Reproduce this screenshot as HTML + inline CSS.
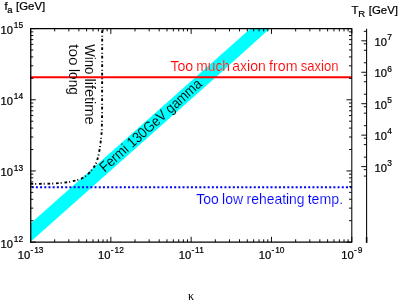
<!DOCTYPE html>
<html><head><meta charset="utf-8"><title>plot</title>
<style>html,body{margin:0;padding:0;background:#fff;width:398px;height:303px;overflow:hidden}</style></head>
<body>
<svg width="398" height="303" viewBox="0 0 398 303" style="display:block;position:absolute;left:0;top:0;will-change:transform" font-family="'Liberation Sans', sans-serif">
<rect width="398" height="303" fill="#fff"/>
<polygon points="30.5,223.40 195.8,77 250.6,28.6 269.9,28.6 216.0,77 30.5,241.80" fill="#00ffff"/>
<line x1="30.5" y1="77.2" x2="351.8" y2="77.2" stroke="#ff0000" stroke-width="2.0"/>
<line x1="30.5" y1="187.3" x2="351.8" y2="187.3" stroke="#0000ff" stroke-width="2.05" stroke-dasharray="2.0 2.19" stroke-dashoffset="-1.2"/>
<path d="M30.5,183.9 L45.0,183.8 L55.0,183.4 L63.0,182.8 L70.0,181.8 L76.0,180.5 L81.0,178.8 L85.0,176.6 L88.1,174.1 L90.6,171.4 L92.7,168.8 L94.4,166.4 L95.7,164.2 L97.0,160.8 L98.0,157.4 L99.0,153.0 L99.8,148.2 L100.5,143.5 L101.0,139.1 L101.5,134.0 L101.8,130.0 L102.1,115.0 L102.2,28.6" fill="none" stroke="#000" stroke-width="1.9" stroke-dasharray="2.7 2.0 1.0 2.8" stroke-linejoin="round"/>
<path d="M30.1,28.6H352.3M30.1,242.1H352.3M351.8,28.6V242.1" fill="none" stroke="#000" stroke-width="1.05"/>
<path d="M30.75,28.1V242.6" fill="none" stroke="#000" stroke-width="1.3"/>
<path d="M30.50,242.1v-5.3M30.50,28.6v5.3M54.68,242.1v-2.8M54.68,28.6v2.8M68.82,242.1v-2.8M68.82,28.6v2.8M78.86,242.1v-2.8M78.86,28.6v2.8M86.64,242.1v-2.8M86.64,28.6v2.8M93.00,242.1v-2.8M93.00,28.6v2.8M98.38,242.1v-2.8M98.38,28.6v2.8M103.04,242.1v-2.8M103.04,28.6v2.8M107.15,242.1v-2.8M107.15,28.6v2.8M110.83,242.1v-5.3M110.83,28.6v5.3M135.01,242.1v-2.8M135.01,28.6v2.8M149.15,242.1v-2.8M149.15,28.6v2.8M159.19,242.1v-2.8M159.19,28.6v2.8M166.97,242.1v-2.8M166.97,28.6v2.8M173.33,242.1v-2.8M173.33,28.6v2.8M178.71,242.1v-2.8M178.71,28.6v2.8M183.37,242.1v-2.8M183.37,28.6v2.8M187.47,242.1v-2.8M187.47,28.6v2.8M191.15,242.1v-5.3M191.15,28.6v5.3M215.33,242.1v-2.8M215.33,28.6v2.8M229.47,242.1v-2.8M229.47,28.6v2.8M239.51,242.1v-2.8M239.51,28.6v2.8M247.29,242.1v-2.8M247.29,28.6v2.8M253.65,242.1v-2.8M253.65,28.6v2.8M259.03,242.1v-2.8M259.03,28.6v2.8M263.69,242.1v-2.8M263.69,28.6v2.8M267.80,242.1v-2.8M267.80,28.6v2.8M271.48,242.1v-5.3M271.48,28.6v5.3M295.66,242.1v-2.8M295.66,28.6v2.8M309.80,242.1v-2.8M309.80,28.6v2.8M319.84,242.1v-2.8M319.84,28.6v2.8M327.62,242.1v-2.8M327.62,28.6v2.8M333.98,242.1v-2.8M333.98,28.6v2.8M339.36,242.1v-2.8M339.36,28.6v2.8M344.02,242.1v-2.8M344.02,28.6v2.8M348.12,242.1v-2.8M348.12,28.6v2.8M351.80,242.1v-5.3M351.80,28.6v5.3M30.5,242.10h5.3M351.8,242.10h-5.3M30.5,220.68h2.8M351.8,220.68h-2.8M30.5,208.14h2.8M351.8,208.14h-2.8M30.5,199.25h2.8M351.8,199.25h-2.8M30.5,192.36h2.8M351.8,192.36h-2.8M30.5,186.72h2.8M351.8,186.72h-2.8M30.5,181.96h2.8M351.8,181.96h-2.8M30.5,177.83h2.8M351.8,177.83h-2.8M30.5,174.19h2.8M351.8,174.19h-2.8M30.5,170.93h5.3M351.8,170.93h-5.3M30.5,149.51h2.8M351.8,149.51h-2.8M30.5,136.98h2.8M351.8,136.98h-2.8M30.5,128.09h2.8M351.8,128.09h-2.8M30.5,121.19h2.8M351.8,121.19h-2.8M30.5,115.55h2.8M351.8,115.55h-2.8M30.5,110.79h2.8M351.8,110.79h-2.8M30.5,106.66h2.8M351.8,106.66h-2.8M30.5,103.02h2.8M351.8,103.02h-2.8M30.5,99.77h5.3M351.8,99.77h-5.3M30.5,78.34h2.8M351.8,78.34h-2.8M30.5,65.81h2.8M351.8,65.81h-2.8M30.5,56.92h2.8M351.8,56.92h-2.8M30.5,50.02h2.8M351.8,50.02h-2.8M30.5,44.39h2.8M351.8,44.39h-2.8M30.5,39.62h2.8M351.8,39.62h-2.8M30.5,35.50h2.8M351.8,35.50h-2.8M30.5,31.86h2.8M351.8,31.86h-2.8M30.5,28.60h5.3M351.8,28.60h-5.3" stroke="#000" stroke-width="0.95" fill="none"/>
<line x1="366.6" y1="28.700000000000003" x2="366.6" y2="242.79999999999998" stroke="#000" stroke-width="1.05"/>
<line x1="366.6" y1="237.1" x2="366.6" y2="242.79999999999998" stroke="#000" stroke-width="1.5"/>
<path d="M366.6,166.60h-5.3M366.6,135.15h-5.3M366.6,103.70h-5.3M366.6,72.25h-5.3M366.6,40.80h-5.3M366.6,31.33h-2.8M366.6,43.85h-2.8M366.6,50.27h-2.8M366.6,62.78h-2.8M366.6,75.30h-2.8M366.6,81.72h-2.8M366.6,94.23h-2.8M366.6,106.75h-2.8M366.6,113.17h-2.8M366.6,125.68h-2.8M366.6,138.20h-2.8M366.6,144.62h-2.8M366.6,157.13h-2.8M366.6,169.65h-2.8M366.6,176.07h-2.8" stroke="#000" stroke-width="0.95" fill="none"/>
<g>
<text stroke="#000" stroke-width="0.22" x="23.1" y="247.60" font-size="11.2" text-anchor="end">10<tspan font-size="8.4" dy="-5.8" dx="0.7">12</tspan></text>
<text stroke="#000" stroke-width="0.22" x="23.1" y="176.43" font-size="11.2" text-anchor="end">10<tspan font-size="8.4" dy="-5.8" dx="0.7">13</tspan></text>
<text stroke="#000" stroke-width="0.22" x="23.1" y="105.27" font-size="11.2" text-anchor="end">10<tspan font-size="8.4" dy="-5.8" dx="0.7">14</tspan></text>
<text stroke="#000" stroke-width="0.22" x="23.1" y="34.00" font-size="11.2" text-anchor="end">10<tspan font-size="8.4" dy="-5.8" dx="0.7">15</tspan></text>
<text stroke="#000" stroke-width="0.22" x="30.60" y="258.8" font-size="11.2" text-anchor="middle">10<tspan font-size="8.4" dy="-5.8" dx="0.3">-</tspan><tspan font-size="8.4" dx="0.9">13</tspan></text>
<text stroke="#000" stroke-width="0.22" x="110.92" y="258.8" font-size="11.2" text-anchor="middle">10<tspan font-size="8.4" dy="-5.8" dx="0.3">-</tspan><tspan font-size="8.4" dx="0.9">12</tspan></text>
<text stroke="#000" stroke-width="0.22" x="191.25" y="258.8" font-size="11.2" text-anchor="middle">10<tspan font-size="8.4" dy="-5.8" dx="0.3">-</tspan><tspan font-size="8.4" dx="0.9">11</tspan></text>
<text stroke="#000" stroke-width="0.22" x="271.58" y="258.8" font-size="11.2" text-anchor="middle">10<tspan font-size="8.4" dy="-5.8" dx="0.3">-</tspan><tspan font-size="8.4" dx="0.9">10</tspan></text>
<text stroke="#000" stroke-width="0.22" x="351.90" y="258.8" font-size="11.2" text-anchor="middle">10<tspan font-size="8.4" dy="-5.8" dx="0.3">-</tspan><tspan font-size="8.4" dx="0.9">9</tspan></text>
<text stroke="#000" stroke-width="0.22" x="374.5" y="46.00" font-size="11.2">10<tspan font-size="8.4" dy="-5.9" dx="0.4">7</tspan></text>
<text stroke="#000" stroke-width="0.22" x="374.5" y="77.45" font-size="11.2">10<tspan font-size="8.4" dy="-5.9" dx="0.4">6</tspan></text>
<text stroke="#000" stroke-width="0.22" x="374.5" y="108.90" font-size="11.2">10<tspan font-size="8.4" dy="-5.9" dx="0.4">5</tspan></text>
<text stroke="#000" stroke-width="0.22" x="374.5" y="140.35" font-size="11.2">10<tspan font-size="8.4" dy="-5.9" dx="0.4">4</tspan></text>
<text stroke="#000" stroke-width="0.22" x="374.5" y="171.80" font-size="11.2">10<tspan font-size="8.4" dy="-5.9" dx="0.4">3</tspan></text>
<text stroke="#000" stroke-width="0.22" x="4.4" y="9.5" font-size="11.4">f<tspan font-size="9.5" dy="3.1" dx="-0.2">a</tspan><tspan dy="-3.1" dx="0.2"> [GeV]</tspan></text>
<text stroke="#000" stroke-width="0.22" x="351.6" y="13.6" font-size="11.4">T<tspan font-size="9.5" dy="3.2" dx="-0.3">R</tspan><tspan dy="-3.2" dx="0.5"> [GeV]</tspan></text>
<text x="191.1" y="299.8" font-size="12" text-anchor="middle" font-family="'Liberation Serif', serif" font-style="normal">&#954;</text>
<text x="170.40" y="70.6" font-size="14.3" fill="#ff0000" stroke="#fff" stroke-width="0.14" textLength="22.85" lengthAdjust="spacingAndGlyphs">Too</text>
<text x="196.28" y="70.6" font-size="14.3" fill="#ff0000" stroke="#fff" stroke-width="0.14" textLength="33.71" lengthAdjust="spacingAndGlyphs">much</text>
<text x="232.30" y="70.6" font-size="14.3" fill="#ff0000" stroke="#fff" stroke-width="0.14" textLength="33.51" lengthAdjust="spacingAndGlyphs">axion</text>
<text x="269.10" y="70.6" font-size="14.3" fill="#ff0000" stroke="#fff" stroke-width="0.14" textLength="28.44" lengthAdjust="spacingAndGlyphs">from</text>
<text x="300.64" y="70.6" font-size="14.3" fill="#ff0000" stroke="#fff" stroke-width="0.14" textLength="37.81" lengthAdjust="spacingAndGlyphs">saxion</text>
<text x="196.31" y="204.1" font-size="14.3" fill="#0000ff" stroke="#fff" stroke-width="0.14" textLength="22.54" lengthAdjust="spacingAndGlyphs">Too</text>
<text x="222.06" y="204.1" font-size="14.3" fill="#0000ff" stroke="#fff" stroke-width="0.14" textLength="21.01" lengthAdjust="spacingAndGlyphs">low</text>
<text x="246.58" y="204.1" font-size="14.3" fill="#0000ff" stroke="#fff" stroke-width="0.14" textLength="58.02" lengthAdjust="spacingAndGlyphs">reheating</text>
<text x="307.69" y="204.1" font-size="14.3" fill="#0000ff" stroke="#fff" stroke-width="0.14" textLength="35.41" lengthAdjust="spacingAndGlyphs">temp.</text>
<text transform="translate(85.0,44.24) rotate(90)" font-size="14.3" fill="#000" stroke="#fff" stroke-width="0.08" textLength="30.11" lengthAdjust="spacingAndGlyphs">Wino</text>
<text transform="translate(85.0,78.42) rotate(90)" font-size="14.3" fill="#000" stroke="#fff" stroke-width="0.08" textLength="46.13" lengthAdjust="spacingAndGlyphs">lifetime</text>
<text transform="translate(68.55,44.27) rotate(90)" font-size="14.3" fill="#000" stroke="#fff" stroke-width="0.08" textLength="21.38" lengthAdjust="spacingAndGlyphs">too</text>
<text transform="translate(68.55,69.08) rotate(90)" font-size="14.3" fill="#000" stroke="#fff" stroke-width="0.08" textLength="25.69" lengthAdjust="spacingAndGlyphs">long</text>
<text transform="translate(104.8,172.8) rotate(-41.75)" font-size="14.6" fill="#000" stroke="#00ffff" stroke-width="0.1" textLength="131.4" lengthAdjust="spacingAndGlyphs">Fermi 130GeV gamma</text>
</g>
</svg>
</body></html>
